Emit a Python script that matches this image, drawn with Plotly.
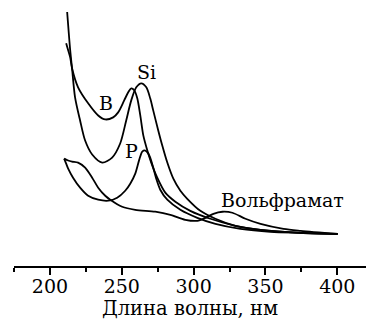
import plotly.graph_objects as go

# Wavelength (nm) and absorbance (arb. units)
b_wl = [211.3, 212.7, 214.1, 215.4, 219.6, 226.6, 233.6, 238.5, 244.0, 247.5, 251.7, 254.5,
        256.6, 258.7, 260.8, 262.9, 265.0, 267.8, 270.5, 274.7, 280.3, 287.3, 297.7, 311.7,
        329.1, 346.6, 374.5, 400.3]
b_abs = [1.741, 1.686, 1.631, 1.545, 1.396, 1.271, 1.176, 1.145, 1.161, 1.200, 1.294, 1.357,
         1.388, 1.373, 1.310, 1.176, 1.020, 0.902, 0.808, 0.690, 0.573, 0.502, 0.431, 0.369,
         0.314, 0.282, 0.259, 0.251]

si_wl = [212.0, 214.1, 215.4, 217.5, 221.0, 224.5, 229.4, 236.4, 243.3, 248.9, 253.1, 256.6,
         260.1, 263.6, 267.1, 269.8, 271.9, 275.4, 278.2, 281.7, 285.9, 290.8, 295.6, 304.7,
         315.2, 329.1, 346.6, 374.5, 400.3]
si_abs = [1.984, 1.686, 1.545, 1.318, 1.137, 0.980, 0.871, 0.808, 0.847, 0.957, 1.137, 1.294,
          1.396, 1.427, 1.396, 1.310, 1.216, 1.059, 0.941, 0.808, 0.682, 0.588, 0.525, 0.431,
          0.369, 0.314, 0.282, 0.259, 0.251]

p_wl = [209.9, 211.3, 212.7, 216.1, 221.0, 226.6, 233.6, 240.6, 246.8, 252.4, 255.9, 259.4,
        262.2, 264.3, 266.4, 268.5, 269.8, 271.9, 274.0, 276.8, 281.7, 290.8, 302.6, 315.2,
        332.6, 353.5, 374.5, 400.3]
p_abs = [0.839, 0.800, 0.761, 0.690, 0.612, 0.549, 0.518, 0.510, 0.533, 0.588, 0.643, 0.722,
         0.831, 0.894, 0.902, 0.878, 0.847, 0.769, 0.682, 0.596, 0.518, 0.439, 0.376, 0.329,
         0.290, 0.267, 0.259, 0.251]

w_wl = [209.9, 212.7, 215.4, 219.6, 224.5, 229.4, 233.6, 238.5, 242.0, 250.3, 259.4, 273.3,
        283.8, 294.2, 302.6, 308.2, 313.8, 320.1, 327.0, 336.1, 346.6, 362.6, 374.5, 400.3]
w_abs = [0.839, 0.824, 0.816, 0.808, 0.769, 0.690, 0.612, 0.549, 0.518, 0.463, 0.439, 0.424,
         0.400, 0.361, 0.353, 0.376, 0.408, 0.424, 0.416, 0.369, 0.329, 0.290, 0.275, 0.251]

labels = ["B", "Si", "P", "Вольфрамат"]
label_wl = [239.2, 267.1, 256.6, 361.9]
label_abs = [1.271, 1.514, 0.902, 0.518]

tick_vals = [200, 250, 300, 350, 400]
x_title = "Длина волны, нм"

FONT = "DejaVu Serif"

fig = go.Figure()
for wl, ab in [(b_wl, b_abs), (si_wl, si_abs), (p_wl, p_abs), (w_wl, w_abs)]:
    fig.add_trace(go.Scatter(x=wl, y=ab, mode="lines",
                             line=dict(color="black", width=1.8, shape="spline", smoothing=0.8),
                             showlegend=False, hoverinfo="skip"))

for t, x, y in zip(labels, label_wl, label_abs):
    fig.add_annotation(x=x, y=y, text=t, showarrow=False,
                       font=dict(family=FONT, size=19, color="black"))

fig.update_layout(
    width=366, height=323,
    margin=dict(l=14, r=0, t=10, b=57),
    paper_bgcolor="white", plot_bgcolor="white",
    font=dict(family=FONT, size=19, color="black"),
    xaxis=dict(range=[175, 420], tickvals=tick_vals, ticks="outside", ticklen=7, tickwidth=1.5,
               tickcolor="black", showline=True, linecolor="black", linewidth=1.5,
               showgrid=False, zeroline=False, ticklabelstandoff=-5,
               minor=dict(ticks="outside", ticklen=4, tickwidth=1.5, tickcolor="black",
                          tick0=175, dtick=25, showgrid=False),
               title=dict(text=x_title, standoff=0, font=dict(family=FONT, size=19.5)),
               tickfont=dict(family=FONT, size=19)),
    yaxis=dict(range=[0, 2], visible=False, showgrid=False, zeroline=False),
)

fig.write_html("out.html", config={"displayModeBar": False},
               post_script="document.body.style.margin='0';document.body.style.overflow='hidden';")
